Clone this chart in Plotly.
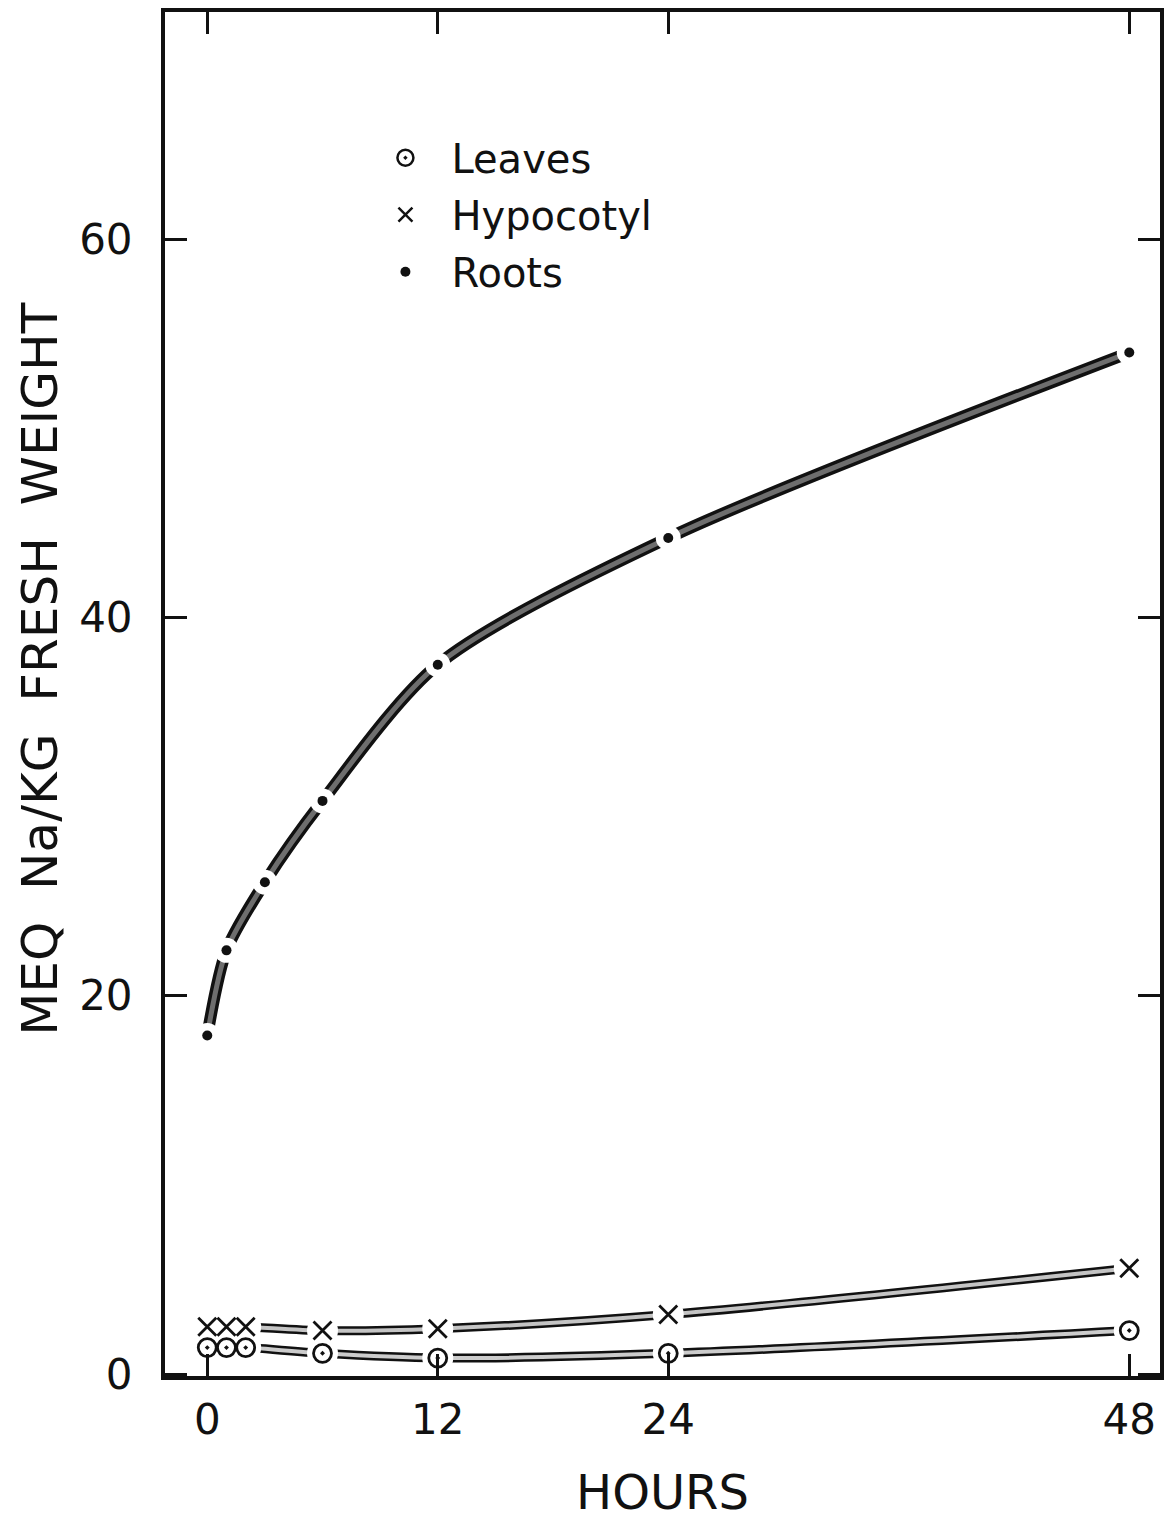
import plotly.graph_objects as go

# ---- data ----
hours_roots = [0, 1, 3, 6, 12, 24, 48]
roots = [17.9, 22.4, 26.0, 30.3, 37.5, 44.2, 54.0]

hours_other = [0, 1, 2, 6, 12, 24, 48]
hypocotyl = [2.5, 2.5, 2.5, 2.3, 2.4, 3.15, 5.6]
leaves = [1.4, 1.4, 1.4, 1.1, 0.85, 1.1, 2.3]

x_ticks = [0, 12, 24, 48]
x_tick_labels = ["0", "12", "24", "48"]
y_ticks = [0, 20, 40, 60]
y_tick_labels = ["0", "20", "40", "60"]

series_names = ["Leaves", "Hypocotyl", "Roots"]
x_title = "HOURS"
y_title = "MEQ  Na/KG  FRESH  WEIGHT"

FONT = "DejaVu Sans"
INK = "#111111"

fig = go.Figure()

# ---- hatched "bars" (outlined thick curves) ----
def bar(x, y, outer, inner, fill, smooth):
    fig.add_trace(go.Scatter(x=x, y=y, mode="lines",
                             line=dict(shape="spline", smoothing=smooth, color=INK, width=outer),
                             showlegend=False, hoverinfo="skip"))
    fig.add_trace(go.Scatter(x=x, y=y, mode="lines",
                             line=dict(shape="spline", smoothing=smooth, color=fill, width=inner),
                             showlegend=False, hoverinfo="skip"))

bar(hours_roots, roots, 12, 5, "#6e6e6e", 0.8)
bar(hours_other, hypocotyl, 9, 4, "#c4c4c4", 0.9)
bar(hours_other, leaves, 9, 4, "#cccccc", 0.9)

# ---- white gaps around the plotted points ----
def mask(x, y, size):
    fig.add_trace(go.Scatter(x=x, y=y, mode="markers",
                             marker=dict(symbol="circle", size=size, color="white",
                                         line=dict(width=0)),
                             showlegend=False, hoverinfo="skip"))

mask(hours_roots, roots, 25)
mask(hours_other, hypocotyl, 31)
mask(hours_other, leaves, 31)

# ---- data markers ----
fig.add_trace(go.Scatter(x=hours_other, y=leaves, mode="markers", name=series_names[0],
                         marker=dict(symbol="circle-open-dot", size=18, color=INK,
                                     line=dict(width=2.8, color=INK)),
                         showlegend=False))
fig.add_trace(go.Scatter(x=hours_other, y=hypocotyl, mode="markers", name=series_names[1],
                         marker=dict(symbol="x-thin-open", size=18, color=INK,
                                     line=dict(width=2.8, color=INK)),
                         showlegend=False))
fig.add_trace(go.Scatter(x=hours_roots, y=roots, mode="markers", name=series_names[2],
                         marker=dict(symbol="circle", size=10, color=INK),
                         showlegend=False))

# ---- legend-only entries ----
legend_symbols = [("circle-open-dot", 16, 2.5), ("x-thin-open", 14, 2.5), ("circle", 10, 0)]
for name, (sym, sz, lw) in zip(series_names, legend_symbols):
    fig.add_trace(go.Scatter(x=[None], y=[None], mode="markers", name=name,
                             legendgroup=name,
                             marker=dict(symbol=sym, size=sz, color=INK,
                                         line=dict(width=lw, color=INK))))

fig.update_layout(
    width=1172, height=1520,
    margin=dict(l=165, r=8, t=10, b=140),
    paper_bgcolor="white", plot_bgcolor="white",
    font=dict(family=FONT, color=INK),
    showlegend=True,
    legend=dict(x=0.1954, y=0.917, xanchor="left", yanchor="top",
                bgcolor="rgba(0,0,0,0)", borderwidth=0,
                font=dict(size=40, family=FONT, color=INK),
                traceorder="grouped", tracegroupgap=2,
                itemwidth=82),
    xaxis=dict(range=[-2.2, 49.6], tickvals=x_ticks, ticktext=x_tick_labels,
               ticks="inside", ticklen=22, tickwidth=3, tickcolor=INK,
               showline=True, linewidth=4, linecolor=INK, mirror="ticks",
               showgrid=False, zeroline=False,
               tickfont=dict(size=42, family=FONT, color=INK),
               ticklabelstandoff=4,
               title=dict(text=x_title, font=dict(size=48, family=FONT, color=INK),
                          standoff=34)),
    yaxis=dict(range=[-0.1, 72.0], tickvals=y_ticks, ticktext=y_tick_labels,
               ticks="inside", ticklen=22, tickwidth=3, tickcolor=INK,
               showline=True, linewidth=4, linecolor=INK, mirror="ticks",
               showgrid=False, zeroline=False,
               tickfont=dict(size=42, family=FONT, color=INK),
               ticklabelstandoff=20),
    annotations=[dict(text=y_title, textangle=-90, showarrow=False,
                      xref="paper", yref="paper", x=-0.1253, y=0.518,
                      xanchor="center", yanchor="middle",
                      font=dict(size=50, family=FONT, color=INK))],
)

fig.write_html("out.html", config={"displayModeBar": False},
               post_script="document.body.style.margin='0';")
